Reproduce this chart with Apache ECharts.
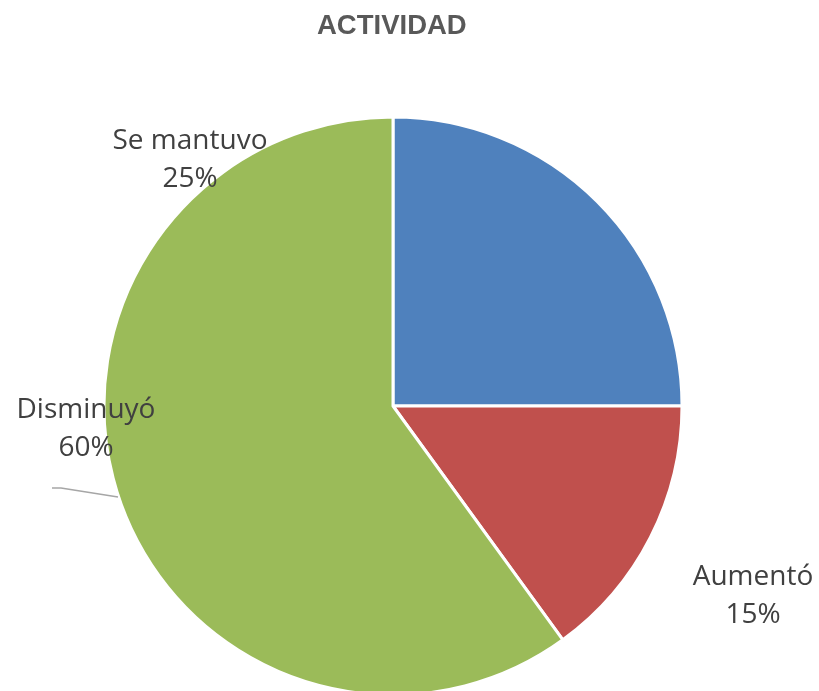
<!DOCTYPE html>
<html>
<head>
<meta charset="utf-8">
<script src="https://cdn.jsdelivr.net/npm/echarts@6/dist/echarts.min.js"></script>
<style>
html,body{margin:0;padding:0;background:#fff;}
#chart{width:819px;height:691px;}
</style>
</head>
<body>
<div id="chart"></div>
<script>
const titleText = 'ACTIVIDAD';
const categories = ['Se mantuvo', 'Aumentó', 'Disminuyó'];
const values = [25, 15, 60];
const colors = ['#4F81BD', '#C0504D', '#9BBB59'];
// label anchor positions (label placement, as in the original figure)
const labelPos = [[190, 160], [753, 596], [86, 429]];

const chart = echarts.init(document.getElementById('chart'), null, {renderer: 'canvas'});
chart.setOption({
  animation: false,
  backgroundColor: '#ffffff',
  title: {
    text: titleText,
    left: 312,
    top: 7,
    textStyle: {fontFamily: 'Liberation Sans', fontWeight: 'bold', fontSize: 27.5, color: '#595959'}
  },
  graphic: [{
    type: 'polyline',
    shape: {points: [[52, 488], [61, 488], [118, 497]]},
    style: {stroke: '#A6A6A6', lineWidth: 1.5, fill: null},
    z: 10
  }],
  series: [{
    type: 'pie',
    center: [393, 406],
    radius: 289,
    startAngle: 90,
    clockwise: true,
    avoidLabelOverlap: false,
    data: categories.map((c, i) => ({name: c, value: values[i], itemStyle: {color: colors[i]}})),
    itemStyle: {borderColor: '#ffffff', borderWidth: 3},
    label: {
      show: true,
      position: 'outside',
      formatter: '{b}\n{d}%',
      fontFamily: 'Open Sans',
      fontSize: 28,
      lineHeight: 38,
      color: '#404040',
      align: 'center'
    },
    labelLine: {show: false},
    labelLayout: function (params) {
      const p = labelPos[params.dataIndex];
      return {x: p[0], y: p[1], align: 'center', verticalAlign: 'middle'};
    },
    emphasis: {disabled: true}
  }]
});
</script>
</body>
</html>
